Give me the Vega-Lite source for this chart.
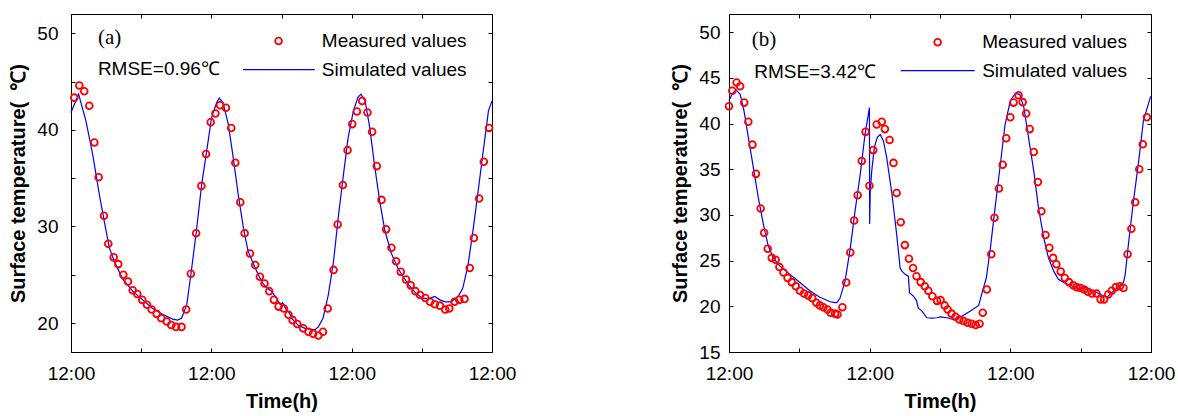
{
  "$schema": "https://vega.github.io/schema/vega-lite/v6.json",
  "background": "white",
  "padding": {"left": 8, "top": 13, "right": 5, "bottom": 5},
  "config": {
    "font": "Liberation Sans",
    "view": {"stroke": null},
    "axis": {"labelFont": "Liberation Sans", "labelFontSize": 19, "labelColor": "#000", "titleFont": "Liberation Sans", "titleFontSize": 20, "titleFontWeight": "bold", "titleColor": "#000", "domainColor": "#000", "domainWidth": 1, "tickColor": "#000", "tickWidth": 1, "grid": false, "tickSize": -4, "labelOverlap": false, "labelFlush": false}
  },
  "datasets": {
    "ma": [
      {"h":0.56,"t":43.34},{"h":1.42,"t":44.6},{"h":2.27,"t":44.0},{"h":3.13,"t":42.5},{"h":3.99,"t":38.7},{"h":4.73,"t":35.1},{"h":5.64,"t":31.1},{"h":6.38,"t":28.2},{"h":7.3,"t":26.8},{"h":8.09,"t":26.1},{"h":8.95,"t":25.0},{"h":9.75,"t":24.3},{"h":10.55,"t":23.4},{"h":11.34,"t":23.0},{"h":12.19,"t":22.4},{"h":13.0,"t":21.9},{"h":13.8,"t":21.4},{"h":14.65,"t":20.95},{"h":15.44,"t":20.5},{"h":16.36,"t":20.15},{"h":17.15,"t":19.8},{"h":17.96,"t":19.6},{"h":18.9,"t":19.6},{"h":19.7,"t":21.4},{"h":20.5,"t":25.1},{"h":21.4,"t":29.3},{"h":22.3,"t":34.2},{"h":23.1,"t":37.5},{"h":23.9,"t":40.8},{"h":24.7,"t":41.7},{"h":25.5,"t":42.55},{"h":26.5,"t":42.3},{"h":27.4,"t":40.2},{"h":28.1,"t":36.6},{"h":28.95,"t":32.5},{"h":29.7,"t":29.3},{"h":30.6,"t":27.2},{"h":31.5,"t":26.0},{"h":32.3,"t":24.8},{"h":33.1,"t":24.1},{"h":33.9,"t":23.3},{"h":34.7,"t":22.4},{"h":35.5,"t":21.7},{"h":36.4,"t":21.5},{"h":37.2,"t":20.85},{"h":37.9,"t":20.3},{"h":38.7,"t":19.9},{"h":39.7,"t":19.45},{"h":40.6,"t":19.1},{"h":41.4,"t":18.9},{"h":42.3,"t":18.7},{"h":43.1,"t":19.1},{"h":43.9,"t":21.5},{"h":44.9,"t":25.5},{"h":45.6,"t":30.2},{"h":46.5,"t":34.3},{"h":47.3,"t":37.9},{"h":48.1,"t":40.6},{"h":48.9,"t":41.9},{"h":49.8,"t":43.0},{"h":50.7,"t":41.8},{"h":51.5,"t":39.8},{"h":52.3,"t":36.25},{"h":53.1,"t":32.75},{"h":53.9,"t":29.7},{"h":54.8,"t":27.8},{"h":55.6,"t":26.4},{"h":56.4,"t":25.3},{"h":57.3,"t":24.5},{"h":58.1,"t":23.9},{"h":58.9,"t":23.3},{"h":59.7,"t":22.9},{"h":60.6,"t":22.6},{"h":61.4,"t":22.2},{"h":62.2,"t":21.95},{"h":63.1,"t":21.8},{"h":64.0,"t":21.4},{"h":64.7,"t":21.5},{"h":65.6,"t":22.2},{"h":66.4,"t":22.4},{"h":67.3,"t":22.5},{"h":68.2,"t":25.7},{"h":68.9,"t":28.8},{"h":69.8,"t":32.9},{"h":70.6,"t":36.7},{"h":71.5,"t":40.2}
    ],
    "sa": [
      {"h":0,"t":41.8},{"h":1.3,"t":43.7},{"h":2.56,"t":40.9},{"h":3.7,"t":37.5},{"h":4.85,"t":33.3},{"h":5.7,"t":30.5},{"h":6.55,"t":27.8},{"h":7.4,"t":26.4},{"h":8.8,"t":24.6},{"h":10.55,"t":23.3},{"h":12.25,"t":22.4},{"h":13.95,"t":21.5},{"h":15.65,"t":20.9},{"h":17.4,"t":20.4},{"h":18.2,"t":20.3},{"h":18.9,"t":20.5},{"h":19.8,"t":21.9},{"h":20.5,"t":25.0},{"h":21.4,"t":29.3},{"h":22.35,"t":34.35},{"h":23.2,"t":37.8},{"h":24.05,"t":41.3},{"h":24.9,"t":42.8},{"h":25.35,"t":43.3},{"h":26.0,"t":42.8},{"h":26.9,"t":40.6},{"h":27.75,"t":37.1},{"h":28.6,"t":33.3},{"h":29.5,"t":29.8},{"h":30.3,"t":27.4},{"h":31.5,"t":25.7},{"h":32.6,"t":24.3},{"h":33.5,"t":23.6},{"h":34.3,"t":23.3},{"h":35.2,"t":22.5},{"h":35.8,"t":21.9},{"h":36.2,"t":22.1},{"h":36.7,"t":21.5},{"h":37.4,"t":21.0},{"h":37.7,"t":20.5},{"h":38.8,"t":19.8},{"h":40.0,"t":19.45},{"h":41.7,"t":19.3},{"h":42.3,"t":19.6},{"h":43.1,"t":20.5},{"h":44.0,"t":22.9},{"h":44.9,"t":26.4},{"h":45.7,"t":30.9},{"h":46.6,"t":35.4},{"h":47.4,"t":39.2},{"h":48.3,"t":42.0},{"h":49.1,"t":43.4},{"h":49.6,"t":43.7},{"h":50.3,"t":43.0},{"h":51.1,"t":40.2},{"h":51.9,"t":36.4},{"h":52.8,"t":32.6},{"h":53.7,"t":29.5},{"h":54.8,"t":27.2},{"h":55.9,"t":25.7},{"h":56.6,"t":25.0},{"h":57.7,"t":24.0},{"h":58.8,"t":23.2},{"h":60.0,"t":22.6},{"h":61.1,"t":22.5},{"h":62.2,"t":22.75},{"h":63.1,"t":22.4},{"h":64.0,"t":22.2},{"h":65.0,"t":22.2},{"h":66.2,"t":22.75},{"h":67.0,"t":23.6},{"h":67.9,"t":26.0},{"h":68.8,"t":29.8},{"h":69.7,"t":34.0},{"h":70.5,"t":37.8},{"h":71.4,"t":42.0},{"h":72,"t":43.0}
    ],
    "mb": [
      {"h":0,"t":41.9},{"h":0.56,"t":43.6},{"h":1.3,"t":44.5},{"h":1.9,"t":44.1},{"h":2.6,"t":42.3},{"h":3.3,"t":40.2},{"h":4.0,"t":37.7},{"h":4.6,"t":34.5},{"h":5.4,"t":30.7},{"h":6.0,"t":28.05},{"h":6.6,"t":26.3},{"h":7.3,"t":25.3},{"h":7.96,"t":25.1},{"h":8.6,"t":24.3},{"h":9.3,"t":23.7},{"h":10.0,"t":23.1},{"h":10.7,"t":22.65},{"h":11.4,"t":22.2},{"h":12.1,"t":21.7},{"h":12.8,"t":21.4},{"h":13.5,"t":21.2},{"h":14.2,"t":20.9},{"h":14.9,"t":20.4},{"h":15.5,"t":20.1},{"h":16.1,"t":19.9},{"h":16.8,"t":19.65},{"h":17.35,"t":19.3},{"h":18.1,"t":19.2},{"h":18.5,"t":19.1},{"h":19.35,"t":19.9},{"h":20.0,"t":22.6},{"h":20.7,"t":25.9},{"h":21.35,"t":29.4},{"h":21.95,"t":32.15},{"h":22.65,"t":35.9},{"h":23.3,"t":39.1},{"h":23.96,"t":33.2},{"h":24.6,"t":37.1},{"h":25.2,"t":39.9},{"h":26.06,"t":40.2},{"h":26.6,"t":39.4},{"h":27.4,"t":38.2},{"h":28.06,"t":35.7},{"h":28.6,"t":32.4},{"h":29.3,"t":29.2},{"h":30.0,"t":26.7},{"h":30.7,"t":25.2},{"h":31.4,"t":24.2},{"h":32.0,"t":23.3},{"h":32.7,"t":22.65},{"h":33.4,"t":22.2},{"h":34.0,"t":21.7},{"h":34.7,"t":21.1},{"h":35.5,"t":20.6},{"h":36.1,"t":20.7},{"h":36.8,"t":20.1},{"h":37.3,"t":19.65},{"h":37.97,"t":19.2},{"h":38.65,"t":18.85},{"h":39.3,"t":18.55},{"h":40.0,"t":18.4},{"h":40.7,"t":18.2},{"h":41.4,"t":18.1},{"h":42.1,"t":17.95},{"h":42.75,"t":18.1},{"h":43.3,"t":19.3},{"h":44.0,"t":21.85},{"h":44.75,"t":25.7},{"h":45.3,"t":29.7},{"h":46.05,"t":32.9},{"h":46.7,"t":35.5},{"h":47.3,"t":38.4},{"h":48.0,"t":40.7},{"h":48.55,"t":42.3},{"h":49.4,"t":43.1},{"h":50.1,"t":42.35},{"h":50.7,"t":41.1},{"h":51.3,"t":39.4},{"h":52.0,"t":36.9},{"h":52.7,"t":33.6},{"h":53.3,"t":30.4},{"h":54.0,"t":27.8},{"h":54.65,"t":26.4},{"h":55.3,"t":25.3},{"h":55.85,"t":24.6},{"h":56.6,"t":23.8},{"h":57.3,"t":23.1},{"h":58.0,"t":22.65},{"h":58.7,"t":22.3},{"h":59.3,"t":22.1},{"h":59.95,"t":22.0},{"h":60.6,"t":21.85},{"h":61.25,"t":21.6},{"h":61.9,"t":21.4},{"h":62.7,"t":21.4},{"h":63.4,"t":20.75},{"h":64.0,"t":20.75},{"h":64.7,"t":21.3},{"h":65.3,"t":21.7},{"h":66.0,"t":22.1},{"h":66.7,"t":22.2},{"h":67.3,"t":22.0},{"h":68.0,"t":25.7},{"h":68.65,"t":28.5},{"h":69.3,"t":31.4},{"h":70.0,"t":35.0},{"h":70.6,"t":37.75},{"h":71.3,"t":40.7}
    ],
    "sb": [
      {"h":0,"t":42.5},{"h":0.56,"t":43.3},{"h":1.2,"t":43.7},{"h":1.9,"t":43.2},{"h":2.56,"t":41.4},{"h":3.3,"t":38.5},{"h":4.15,"t":35.2},{"h":5.0,"t":31.9},{"h":5.86,"t":29.0},{"h":6.7,"t":26.6},{"h":7.56,"t":25.3},{"h":8.7,"t":24.4},{"h":10.4,"t":23.5},{"h":12.1,"t":22.6},{"h":13.8,"t":21.7},{"h":15.5,"t":21.0},{"h":17.25,"t":20.5},{"h":18.1,"t":20.4},{"h":18.4,"t":20.4},{"h":18.95,"t":20.9},{"h":19.8,"t":22.75},{"h":20.7,"t":26.4},{"h":21.5,"t":30.4},{"h":22.4,"t":34.5},{"h":23.2,"t":38.8},{"h":23.96,"t":41.75},{"h":24.0,"t":29.0},{"h":24.1,"t":32.5},{"h":24.35,"t":34.8},{"h":24.8,"t":37.4},{"h":25.3,"t":38.5},{"h":25.8,"t":38.8},{"h":26.35,"t":38.1},{"h":26.9,"t":36.3},{"h":27.8,"t":32.3},{"h":28.6,"t":27.9},{"h":29.2,"t":24.2},{"h":29.5,"t":23.85},{"h":30.05,"t":23.5},{"h":30.6,"t":23.3},{"h":30.8,"t":21.5},{"h":31.5,"t":21.1},{"h":32.0,"t":20.6},{"h":32.3,"t":19.8},{"h":32.9,"t":19.5},{"h":33.75,"t":18.75},{"h":34.6,"t":18.7},{"h":35.5,"t":18.75},{"h":36.0,"t":18.85},{"h":37.2,"t":18.75},{"h":38.3,"t":18.55},{"h":39.7,"t":18.9},{"h":41.2,"t":19.5},{"h":42.6,"t":20.1},{"h":43.1,"t":21.3},{"h":43.9,"t":23.1},{"h":44.6,"t":26.4},{"h":45.4,"t":30.8},{"h":46.3,"t":35.55},{"h":47.1,"t":39.9},{"h":48.0,"t":42.5},{"h":48.85,"t":43.3},{"h":49.6,"t":43.2},{"h":50.3,"t":41.8},{"h":51.1,"t":38.5},{"h":52.0,"t":34.8},{"h":52.8,"t":30.8},{"h":53.7,"t":27.5},{"h":54.5,"t":25.3},{"h":55.4,"t":23.85},{"h":56.2,"t":22.95},{"h":57.1,"t":22.6},{"h":58.2,"t":22.3},{"h":59.4,"t":22.0},{"h":60.5,"t":22.0},{"h":61.0,"t":22.1},{"h":61.7,"t":21.65},{"h":62.2,"t":21.7},{"h":63.4,"t":21.3},{"h":64.5,"t":21.0},{"h":65.3,"t":21.5},{"h":66.5,"t":22.2},{"h":67.3,"t":22.6},{"h":67.6,"t":23.5},{"h":68.2,"t":27.1},{"h":69.0,"t":31.5},{"h":69.9,"t":35.9},{"h":70.7,"t":40.3},{"h":71.9,"t":42.9},{"h":72,"t":43.0}
    ]
  },
  "hconcat": [
    {
      "width": 421, "height": 338,
      "layer": [
        {"data": {"name": "sa"}, "mark": {"type": "line", "color": "#0000ff", "strokeWidth": 1.2},
         "encoding": {
           "x": {"field": "h", "type": "quantitative", "scale": {"domain": [0, 72], "nice": false}, "axis": {"orient": "bottom", "values": [0,12,24,36,48,60,72], "labelExpr": "datum.value % 24 == 0 ? '12:00' : ''", "title": "Time(h)", "labelPadding": 16, "titlePadding": 8}},
           "y": {"field": "t", "type": "quantitative", "scale": {"domain": [17, 52], "nice": false, "zero": false}, "axis": {"orient": "left", "values": [20,25,30,35,40,45,50], "labelExpr": "datum.value % 10 == 0 ? datum.label : ''", "title": "Surface temperature(\u00a0\u00a0℃)", "labelPadding": 17, "titlePadding": 8}}
         }},
        {"data": {"name": "ma"}, "mark": {"type": "point", "shape": "circle", "filled": false, "color": "#ff0000", "opacity": 1, "size": 46, "strokeWidth": 1.8},
         "encoding": {
           "x": {"field": "h", "type": "quantitative", "axis": {"orient": "top", "values": [0,12,24,36,48,60,72], "labels": false, "title": null}},
           "y": {"field": "t", "type": "quantitative", "axis": {"orient": "right", "values": [20,25,30,35,40,45,50], "labels": false, "title": null}}
         }},
        {"data": {"values": [{"h": 4.6, "t": 49.5, "label": "(a)"}]}, "mark": {"type": "text", "font": "Liberation Serif", "fontSize": 21, "align": "left", "baseline": "middle", "color": "#000"},
         "encoding": {"x": {"field": "h", "type": "quantitative", "axis": null}, "y": {"field": "t", "type": "quantitative", "axis": null}, "text": {"field": "label"}}},
        {"data": {"values": [{"h": 4.6, "t": 46.3, "label": "RMSE=0.96℃"}, {"h": 42.9, "t": 49.2, "label": "Measured values"}, {"h": 42.9, "t": 46.25, "label": "Simulated values"}]}, "mark": {"type": "text", "font": "Liberation Sans", "fontSize": 19, "align": "left", "baseline": "middle", "color": "#000"},
         "encoding": {"x": {"field": "h", "type": "quantitative", "axis": null}, "y": {"field": "t", "type": "quantitative", "axis": null}, "text": {"field": "label"}}},
        {"data": {"values": [{"h": 35.5, "t": 49.2}]}, "mark": {"type": "point", "shape": "circle", "filled": false, "color": "#ff0000", "opacity": 1, "size": 46, "strokeWidth": 1.8},
         "encoding": {"x": {"field": "h", "type": "quantitative", "axis": null}, "y": {"field": "t", "type": "quantitative", "axis": null}}},
        {"data": {"values": [{"h": 29.4, "t": 46.25}, {"h": 41.7, "t": 46.25}]}, "mark": {"type": "line", "color": "#0000ff", "strokeWidth": 1.2},
         "encoding": {"x": {"field": "h", "type": "quantitative", "axis": null}, "y": {"field": "t", "type": "quantitative", "axis": null}}}
      ],
      "resolve": {"axis": {"x": "independent", "y": "independent"}}
    },
    {
      "width": 422, "height": 338,
      "layer": [
        {"data": {"name": "sb"}, "mark": {"type": "line", "color": "#0000ff", "strokeWidth": 1.2},
         "encoding": {
           "x": {"field": "h", "type": "quantitative", "scale": {"domain": [0, 72], "nice": false}, "axis": {"orient": "bottom", "values": [0,12,24,36,48,60,72], "labelExpr": "datum.value % 24 == 0 ? '12:00' : ''", "title": "Time(h)", "labelPadding": 16, "titlePadding": 8}},
           "y": {"field": "t", "type": "quantitative", "scale": {"domain": [15, 52], "nice": false, "zero": false}, "axis": {"orient": "left", "values": [15,20,25,30,35,40,45,50], "title": "Surface temperature(\u00a0\u00a0℃)", "labelPadding": 13, "titlePadding": 8}}
         }},
        {"data": {"name": "mb"}, "mark": {"type": "point", "shape": "circle", "filled": false, "color": "#ff0000", "opacity": 1, "size": 46, "strokeWidth": 1.8},
         "encoding": {
           "x": {"field": "h", "type": "quantitative", "axis": {"orient": "top", "values": [0,12,24,36,48,60,72], "labels": false, "title": null}},
           "y": {"field": "t", "type": "quantitative", "axis": {"orient": "right", "values": [15,20,25,30,35,40,45,50], "labels": false, "title": null}}
         }},
        {"data": {"values": [{"h": 3.9, "t": 49.1, "label": "(b)"}]}, "mark": {"type": "text", "font": "Liberation Serif", "fontSize": 21, "align": "left", "baseline": "middle", "color": "#000"},
         "encoding": {"x": {"field": "h", "type": "quantitative", "axis": null}, "y": {"field": "t", "type": "quantitative", "axis": null}, "text": {"field": "label"}}},
        {"data": {"values": [{"h": 4.3, "t": 45.7, "label": "RMSE=3.42℃"}, {"h": 43.2, "t": 48.9, "label": "Measured values"}, {"h": 43.2, "t": 45.8, "label": "Simulated values"}]}, "mark": {"type": "text", "font": "Liberation Sans", "fontSize": 19, "align": "left", "baseline": "middle", "color": "#000"},
         "encoding": {"x": {"field": "h", "type": "quantitative", "axis": null}, "y": {"field": "t", "type": "quantitative", "axis": null}, "text": {"field": "label"}}},
        {"data": {"values": [{"h": 35.6, "t": 48.9}]}, "mark": {"type": "point", "shape": "circle", "filled": false, "color": "#ff0000", "opacity": 1, "size": 46, "strokeWidth": 1.8},
         "encoding": {"x": {"field": "h", "type": "quantitative", "axis": null}, "y": {"field": "t", "type": "quantitative", "axis": null}}},
        {"data": {"values": [{"h": 29.3, "t": 45.8}, {"h": 41.9, "t": 45.8}]}, "mark": {"type": "line", "color": "#0000ff", "strokeWidth": 1.2},
         "encoding": {"x": {"field": "h", "type": "quantitative", "axis": null}, "y": {"field": "t", "type": "quantitative", "axis": null}}}
      ],
      "resolve": {"axis": {"x": "independent", "y": "independent"}}
    }
  ],
  "spacing": 154
}
